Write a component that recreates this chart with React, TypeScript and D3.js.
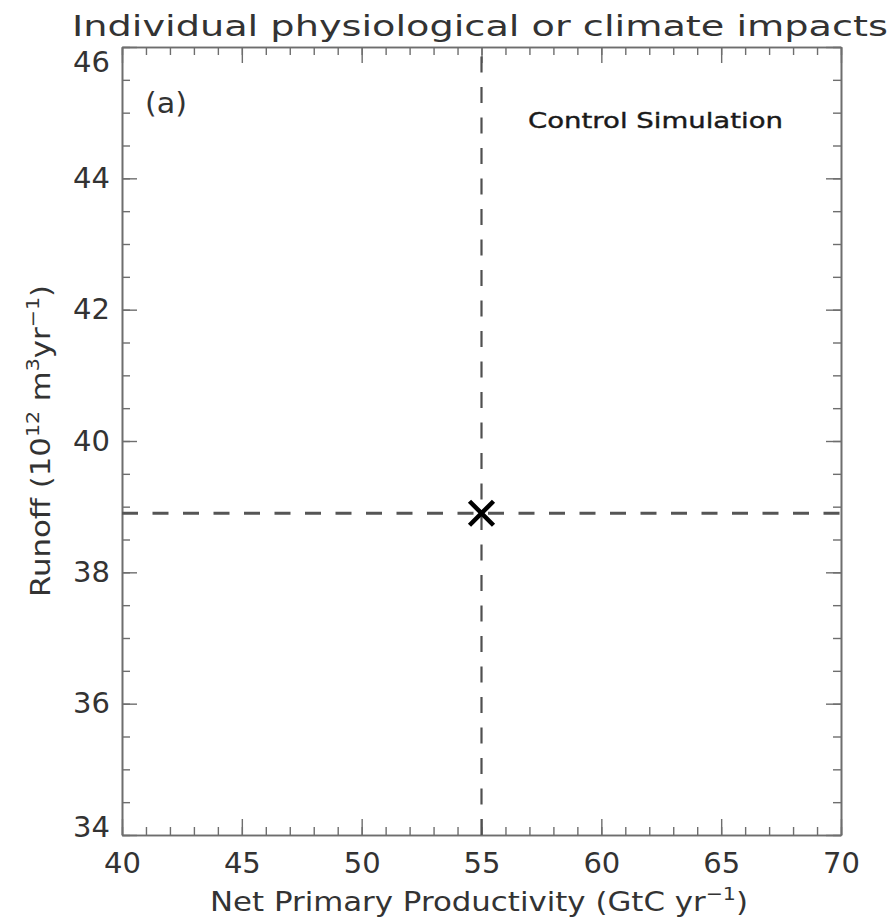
import React, { useEffect, useRef } from 'react';
import * as d3 from 'd3';

// control simulation point (NPP, runoff)
const simLabels = ['Control Simulation'];
const nppValues = [55];
const runoffValues = [38.9];

const xTickValues = [40, 45, 50, 55, 60, 65, 70];
const yTickValues = [34, 36, 38, 40, 42, 44, 46];

const FONT = '"DejaVu Sans", Verdana, sans-serif';

export default function App() {
	const ref = useRef<SVGSVGElement>(null);

	useEffect(() => {
		const width = 893;
		const height = 920;
		const margin = { top: 47, right: 52, bottom: 85, left: 122 };
		const w = width - margin.left - margin.right;
		const h = height - margin.top - margin.bottom;

		const root = d3.select(ref.current);
		root.selectAll('*').remove();

		const svg = root.append('g')
			.attr('transform', 'translate(' + margin.left + ',' + margin.top + ')');

		const xScale = d3.scaleLinear().domain([40, 70]).range([0, w]);
		const yScale = d3.scaleLinear().domain([34, 46]).range([h, 0]);

		const axisColor = '#6e6e6e';
		const textColor = '#333';

		const styleAxis = (g) => {
			g.select('.domain').attr('stroke', axisColor).attr('stroke-width', 1.6);
			g.selectAll('.tick line').attr('stroke', axisColor).attr('stroke-width', 1.4);
			g.selectAll('.tick text')
				.attr('fill', textColor)
				.attr('font-family', FONT)
				.attr('font-size', 29);
		};

		// minor ticks, all four sides, pointing inward
		const xMinor = d3.range(40, 71, 1);
		const yMinor = d3.range(34, 46.01, 0.5);

		svg.append('g')
			.attr('transform', 'translate(0,' + h + ')')
			.call(d3.axisBottom(xScale).tickValues(xMinor).tickSize(-8).tickSizeOuter(0).tickFormat(() => ''))
			.call(styleAxis);
		svg.append('g')
			.call(d3.axisTop(xScale).tickValues(xMinor).tickSize(-8).tickSizeOuter(0).tickFormat(() => ''))
			.call(styleAxis);
		svg.append('g')
			.call(d3.axisLeft(yScale).tickValues(yMinor).tickSize(-8).tickSizeOuter(0).tickFormat(() => ''))
			.call(styleAxis);
		svg.append('g')
			.attr('transform', 'translate(' + w + ',0)')
			.call(d3.axisRight(yScale).tickValues(yMinor).tickSize(-8).tickSizeOuter(0).tickFormat(() => ''))
			.call(styleAxis);

		// major ticks + labels
		svg.append('g')
			.attr('transform', 'translate(0,' + h + ')')
			.call(d3.axisBottom(xScale).tickValues(xTickValues).tickSize(-16).tickSizeOuter(0).tickPadding(17).tickFormat(d3.format('d')))
			.call(styleAxis);
		svg.append('g')
			.call(d3.axisTop(xScale).tickValues(xTickValues).tickSize(-16).tickSizeOuter(0).tickFormat(() => ''))
			.call(styleAxis);
		const yAx = svg.append('g')
			.call(d3.axisLeft(yScale).tickValues(yTickValues).tickSize(-15).tickSizeOuter(0).tickPadding(12).tickFormat(d3.format('d')))
			.call(styleAxis);
		// end labels are pushed inside the frame
		yAx.selectAll('.tick text')
			.attr('y', d => (d === 46 ? 15 : d === 34 ? -8 : 0));
		svg.append('g')
			.attr('transform', 'translate(' + w + ',0)')
			.call(d3.axisRight(yScale).tickValues(yTickValues).tickSize(-15).tickSizeOuter(0).tickFormat(() => ''))
			.call(styleAxis);

		// dashed reference lines through the control run
		svg.append('line')
			.attr('x1', xScale(nppValues[0])).attr('x2', xScale(nppValues[0]))
			.attr('y1', yScale(34)).attr('y2', yScale(46))
			.attr('stroke', '#505050')
			.attr('stroke-width', 2.2)
			.attr('stroke-dasharray', '16,14.5');
		svg.append('line')
			.attr('x1', xScale(40)).attr('x2', xScale(70))
			.attr('y1', yScale(runoffValues[0])).attr('y2', yScale(runoffValues[0]))
			.attr('stroke', '#555')
			.attr('stroke-width', 3.2)
			.attr('stroke-dasharray', '16,14.5');

		// X marker
		const s = 12;
		nppValues.forEach((v, i) => {
			const cx = xScale(v);
			const cy = yScale(runoffValues[i]);
			svg.append('path')
				.attr('d', `M${cx - s},${cy - s}L${cx + s},${cy + s}M${cx - s},${cy + s}L${cx + s},${cy - s}`)
				.attr('stroke', '#000')
				.attr('stroke-width', 4.5)
				.attr('fill', 'none');
		});

		// annotations
		svg.append('text')
			.attr('x', 23).attr('y', 66)
			.attr('font-family', FONT).attr('font-size', 29)
			.attr('fill', textColor)
			.attr('textLength', 42).attr('lengthAdjust', 'spacingAndGlyphs')
			.text('(a)');
		svg.append('text')
			.attr('x', 406).attr('y', 81)
			.attr('font-family', FONT).attr('font-size', 22)
			.attr('fill', '#1a1a1a')
			.attr('stroke', '#1a1a1a').attr('stroke-width', 0.4)
			.attr('textLength', 255).attr('lengthAdjust', 'spacingAndGlyphs')
			.text(simLabels[0]);

		// titles
		root.append('text')
			.attr('x', 72).attr('y', 36)
			.attr('font-family', FONT).attr('font-size', 29)
			.attr('fill', textColor)
			.attr('textLength', 816).attr('lengthAdjust', 'spacingAndGlyphs')
			.text('Individual physiological or climate impacts');

		const xt = root.append('text')
			.attr('x', 210).attr('y', 911)
			.attr('font-family', FONT).attr('font-size', 27)
			.attr('fill', textColor)
			.attr('textLength', 538).attr('lengthAdjust', 'spacingAndGlyphs');
		xt.append('tspan').text('Net Primary Productivity (GtC yr');
		xt.append('tspan').attr('dy', -11).attr('font-size', 18).text('−1');
		xt.append('tspan').attr('dy', 11).text(')');

		const yt = root.append('text')
			.attr('transform', 'translate(50,597) rotate(-90)')
			.attr('font-family', FONT).attr('font-size', 27)
			.attr('fill', textColor)
			.attr('textLength', 312).attr('lengthAdjust', 'spacingAndGlyphs');
		yt.append('tspan').text('Runoff (10');
		yt.append('tspan').attr('dy', -11).attr('font-size', 18).text('12');
		yt.append('tspan').attr('dy', 11).text(' m');
		yt.append('tspan').attr('dy', -11).attr('font-size', 18).text('3');
		yt.append('tspan').attr('dy', 11).text('yr');
		yt.append('tspan').attr('dy', -11).attr('font-size', 18).text('−1');
		yt.append('tspan').attr('dy', 11).text(')');
	}, []);

	return (
		<svg
			ref={ref}
			width={893}
			height={920}
			style={{ position: 'absolute', left: 0, top: 0, background: '#fff' }}
		/>
	);
}
